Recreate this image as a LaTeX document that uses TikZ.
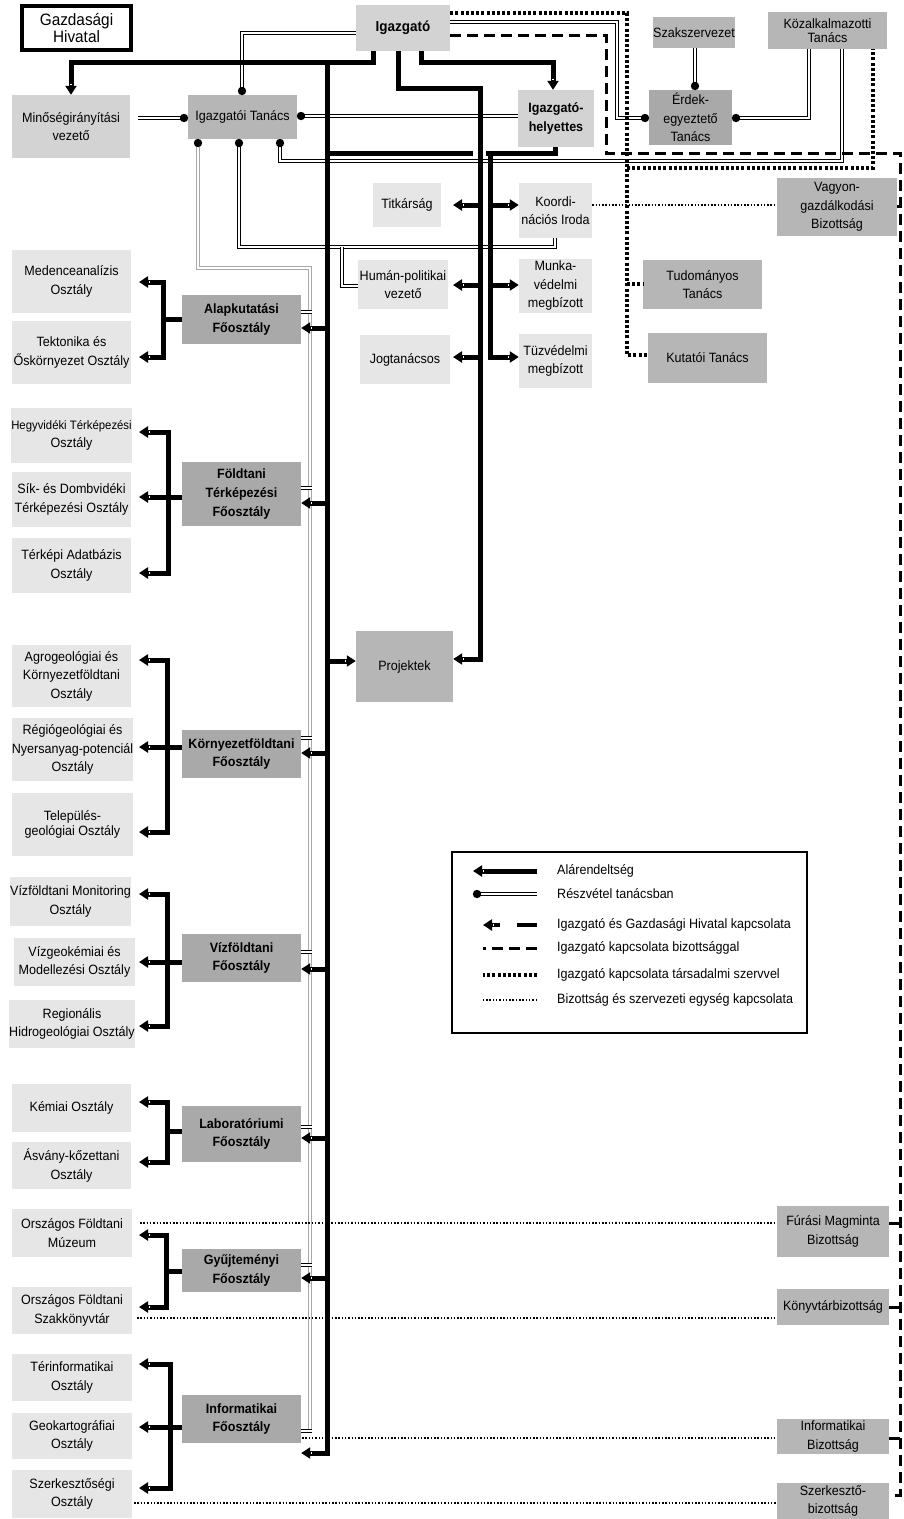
\documentclass[tikz,border=0pt]{standalone}
\usepackage{fontspec}
\setmainfont{Liberation Sans}[FakeStretch=0.93]
\usetikzlibrary{arrows.meta}
\definecolor{cVL}{HTML}{E6E6E6}
\definecolor{cL}{HTML}{D3D3D3}
\definecolor{cM}{HTML}{B6B6B6}
\definecolor{cD}{HTML}{A9A9A9}
\definecolor{cG}{HTML}{A8A8A8}
\newcommand\bx[7]{\node[box,#2,minimum width={(#5)-(#3)},minimum height={(#6)-(#4)}] (#1) at ({((#3)+(#5))/2},{((#4)+(#6))/2}) {#7};}
\newcommand\ball[1]{\fill #1 circle[radius=4.2pt];}
\begin{document}
\begin{tikzpicture}[x=1pt,y=-1pt,
  box/.style={inner sep=0pt, align=center, font=\fontsize{13.5}{18.5}\selectfont},
  bfb/.style={font=\fontsize{13.5}{18.5}\selectfont\bfseries},
  vl/.style={fill=cVL}, lt/.style={fill=cL}, md/.style={fill=cM}, dk/.style={fill=cD, bfb},
  sub/.style={line width=5pt},
  arr/.style={-{Rectangle[length=3pt,width=3.5pt,fill=white,line width=1.2pt] Triangle[length=9pt,width=11pt]}},
  arrb/.style={{Triangle[length=9pt,width=11pt] Rectangle[length=3pt,width=3.5pt,fill=white,line width=1.2pt]}-{Rectangle[length=3pt,width=3.5pt,fill=white,line width=1.2pt] Triangle[length=9pt,width=11pt]}},
  part/.style={draw=black, line width=1.1pt, double=white, double distance=2pt},
  gpart/.style={draw=cG, line width=0.9pt, double=white, double distance=1.8pt},
  bdash/.style={line width=3pt, dash pattern=on 11pt off 6pt},
  tdot/.style={line width=3.2pt, dash pattern=on 3pt off 2.2pt},
  fdot/.style={line width=1.6pt, dash pattern=on 1.5pt off 1.8pt},
  legtext/.style={anchor=west, inner sep=0pt, font=\fontsize{13.5}{16}\selectfont}
]
\useasboundingbox (0,0) rectangle (903,1519);

% ---------------- boxes ----------------
\node[box, draw, line width=4pt, fill=white, minimum width=109, minimum height=44, font=\fontsize{16.5}{17}\selectfont] (gh) at (76.5,28) {Gazdasági\\Hivatal};
\bx{igaz}{lt,font=\fontsize{14.5}{18}\selectfont\bfseries}{356}{5}{450}{51}{Igazgató}
\bx{minv}{lt}{12}{95}{130}{158}{Minőségirányítási\\vezető}
\bx{itan}{md}{188}{95}{297}{139}{Igazgatói Tanács}
\bx{ih}{lt,bfb}{518}{90}{594}{147}{Igazgató-\\helyettes}
\bx{szak}{md}{653}{17}{735}{48}{Szakszervezet}
\bx{kozt}{md,font=\fontsize{13.5}{14}\selectfont}{768}{12}{887}{49}{Közalkalmazotti\\Tanács}
\bx{erdek}{fill=cD}{649}{90}{732}{145}{Érdek-\\egyeztető\\Tanács}
\bx{vagy}{md}{777}{178}{897}{236}{Vagyon-\\gazdálkodási\\Bizottság}
\bx{tud}{md}{643}{260}{762}{309}{Tudományos\\Tanács}
\bx{kut}{md}{648}{333}{767}{383}{Kutatói Tanács}
\bx{titk}{vl}{373}{183}{441}{227}{Titkárság}
\bx{koord}{vl}{519}{183}{592}{238}{Koordi-\\nációs Iroda}
\bx{human}{vl}{358}{260}{448}{309}{Humán-politikai\\vezető}
\bx{munka}{vl}{519}{259}{592}{313}{Munka-\\védelmi\\megbízott}
\bx{jog}{vl}{360}{335}{450}{384}{Jogtanácsos}
\bx{tuz}{vl}{519}{334}{592}{388}{Tüzvédelmi\\megbízott}
\bx{proj}{md}{356}{631}{453}{702}{Projektek}

% Főosztályok
\bx{alap}{dk}{182}{295}{301}{344}{Alapkutatási\\Főosztály}
\bx{fold}{dk}{182}{462}{301}{526}{Földtani\\Térképezési\\Főosztály}
\bx{korny}{dk}{182}{730}{301}{778}{Környezetföldtani\\Főosztály}
\bx{viz}{dk}{182}{934}{301}{982}{Vízföldtani\\Főosztály}
\bx{lab}{dk}{182}{1106}{301}{1162}{Laboratóriumi\\Főosztály}
\bx{gyuj}{dk}{182}{1249}{301}{1292}{Gyűjteményi\\Főosztály}
\bx{info}{dk}{182}{1395}{301}{1443}{Informatikai\\Főosztály}

% Osztályok
\bx{o1}{vl}{12}{250}{131}{313}{Medenceanalízis\\Osztály}
\bx{o2}{vl}{12}{321}{131}{384}{Tektonika és\\Őskörnyezet Osztály}
\bx{o3}{vl}{12}{408}{131}{463}{{\fontsize{12.2}{14}\selectfont Hegyvidéki Térképezési}\\Osztály}
\bx{o4}{vl}{12}{472}{131}{527}{Sík- és Dombvidéki\\Térképezési Osztály}
\bx{o5}{vl}{12}{538}{131}{593}{Térképi Adatbázis\\Osztály}
\bx{o6}{vl}{12}{645}{131}{707}{Agrogeológiai és\\Környezetföldtani\\Osztály}
\bx{o7}{vl}{12}{718}{133}{781}{Régiógeológiai és\\Nyersanyag-potenciál\\Osztály}
\bx{o8}{vl,font=\fontsize{13.5}{15}\selectfont}{12}{793}{133}{856}{Település-\\geológiai Osztály}
\bx{o9}{vl}{10}{877}{131}{926}{Vízföldtani Monitoring\\Osztály}
\bx{o10}{vl}{14}{938}{135}{986}{Vízgeokémiai és\\Modellezési Osztály}
\bx{o11}{vl}{12}{1000}{132}{1048}{Regionális\\Hidrogeológiai Osztály}
\bx{o12}{vl}{12}{1084}{131}{1132}{Kémiai Osztály}
\bx{o13}{vl}{12}{1142}{131}{1189}{Ásvány-kőzettani\\Osztály}
\bx{o14}{vl}{12}{1209}{132}{1257}{Országos Földtani\\Múzeum}
\bx{o15}{vl}{12}{1287}{132}{1334}{Országos Földtani\\Szakkönyvtár}
\bx{o16}{vl}{12}{1354}{132}{1401}{Térinformatikai\\Osztály}
\bx{o17}{vl}{12}{1413}{132}{1459}{Geokartográfiai\\Osztály}
\bx{o18}{vl}{12}{1470}{132}{1518}{Szerkesztőségi\\Osztály}

% Bizottságok
\bx{furas}{md}{777}{1206}{889}{1257}{Fúrási Magminta\\Bizottság}
\bx{konyvb}{md}{777}{1289}{889}{1325}{Könyvtárbizottság}
\bx{infob}{md}{777}{1419}{889}{1454}{Informatikai\\Bizottság}
\bx{szerkb}{md}{777}{1483}{889}{1519}{Szerkesztő-\\bizottság}

% ---------------- participation (double) lines ----------------
\draw[gpart] (198,143) |- (310,268) -- (310,1431);
\foreach \yy in {312,488,738,952,1127,1265,1431}{\draw[part,line width=0.9pt] (301,\yy) -- (312,\yy);}
\ball{(198,143)}
\draw[part] (igaz.west |- 0,33) -| (242,91); \ball{(242,91)}
\draw[part] (138,118) -- (184,118); \ball{(184,118)}
\draw[part] (ih.west |- 0,116) -- (301,116); \ball{(301,116)}
\draw[part] (igaz.east |- 0,22) -| (617,118) -- (645,118); \ball{(645,118)}
\draw[part] (szak.south -| 695,0) -- (695,86); \ball{(695,86)}
\draw[part] (kozt.south -| 809,0) |- (736,118); \ball{(736,118)}
\draw[part] (kozt.south -| 842,0) |- (280,161) -- (280,143); \ball{(280,143)}
\draw[part] (239,143) |- (555,247) -- (koord.south -| 555,0); \ball{(239,143)}
\draw[part] (342,247) |- (human.west |- 0,286);

% ---------------- committee relations ----------------
\draw[bdash] (igaz.east |- 0,35) -| (606,153) -| (900,1495) -- (szerkb.east |- 0,1495);
\draw[bdash] (900,206) -- (vagy.east |- 0,206);
\draw[bdash] (900,1223) -- (furas.east |- 0,1223);
\draw[bdash] (900,1307) -- (konyvb.east |- 0,1307);
\draw[bdash] (900,1438) -- (infob.east |- 0,1438);

\draw[tdot] (igaz.east |- 0,13) -| (627,355) -- (kut.west |- 0,355);
\draw[tdot] (627,168) -| (kozt.south -| 873,0);
\draw[tdot] (627,284) -- (tud.west |- 0,284);

\draw[fdot] (koord.east |- 0,205) -- (vagy.west |- 0,205);
\draw[fdot] (140,1223) -- (furas.west |- 0,1223);
\draw[fdot] (137,1318) -- (konyvb.west |- 0,1318);
\draw[fdot] (302,1438) -- (infob.west |- 0,1438);
\draw[fdot] (134,1503) -- (szerkb.west |- 0,1503);

% ---------------- subordination (thick) ----------------
\draw[sub,arr] (igaz.south -| 373,0) |- (71,62) -- (minv.north -| 71,0);
\draw[sub,arr] (327,62) |- (info.east |- 0,1453);
\draw[sub,arr] (igaz.south -| 398,0) |- (480,88) -- (480,659) -- (proj.east |- 0,659);
\draw[sub,arr] (igaz.south -| 421,0) |- (553,62) -- (ih.north -| 553,0);
\draw[sub] (ih.south -| 555,0) |- (486,153);
\draw[sub] (473,153) -- (327,153);
\draw[sub,arr] (490,153) |- (tuz.west |- 0,357);
\draw[sub,arr] (490,205) -- (koord.west |- 0,205);
\draw[sub,arr] (490,285) -- (munka.west |- 0,285);
\draw[sub,arr] (480,205) -- (453,205);
\draw[sub,arr] (480,285) -- (453,285);
\draw[sub,arr] (480,357) -- (453,357);
\draw[sub,arr] (327,661) -- (proj.west |- 0,661);
\foreach \nn/\yy in {alap/328,fold/503,korny/753,viz/969,lab/1138,gyuj/1278}{\draw[sub,arr] (327,\yy) -- (\nn.east |- 0,\yy);}

% brackets
\draw[sub,arrb] (139,282) -| (163,357) -- (139,357);
\draw[sub] (alap.west |- 0,319) -- (163,319);
\draw[sub,arrb] (139,432) -| (168,573) -- (139,573);
\draw[sub,arr] (fold.west |- 0,497) -- (139,497);
\draw[sub,arrb] (139,660) -| (167,832) -- (139,832);
\draw[sub,arr] (korny.west |- 0,747) -- (139,747);
\draw[sub,arrb] (139,894) -| (167,1026) -- (139,1026);
\draw[sub,arr] (viz.west |- 0,962) -- (139,962);
\draw[sub,arrb] (139,1102) -| (167,1162) -- (139,1162);
\draw[sub] (lab.west |- 0,1131) -- (167,1131);
\draw[sub,arrb] (139,1235) -| (166,1307) -- (139,1307);
\draw[sub] (gyuj.west |- 0,1271) -- (166,1271);
\draw[sub,arrb] (139,1364) -| (170,1488) -- (139,1488);
\draw[sub,arr] (info.west |- 0,1427) -- (139,1427);

% ---------------- legend ----------------
\node[draw, line width=1.5pt, minimum width=355, minimum height=181, inner sep=0pt] (leg) at (629.5,942.5) {};
\draw[sub,arr] (537,871) -- (473,871);
\draw[part] (537,894) -- (477,894); \ball{(477,894)}
\draw[line width=4.5pt] (537,925) -- (517,925);
\draw[line width=4.5pt,arr] (500,925) -- (483,925);
\draw[bdash] (537,948) -- (483,948);
\draw[tdot] (537,975) -- (483,975);
\draw[fdot] (537,1000) -- (483,1000);
\node[legtext] (l1) at (557,871) {Alárendeltség};
\node[legtext] (l2) at (557,894) {Részvétel tanácsban};
\node[legtext] (l3) at (557,925) {Igazgató és Gazdasági Hivatal kapcsolata};
\node[legtext] (l4) at (557,948) {Igazgató kapcsolata bizottsággal};
\node[legtext] (l5) at (557,975) {Igazgató kapcsolata társadalmi szervvel};
\node[legtext] (l6) at (557,1000) {Bizottság és szervezeti egység kapcsolata};
\end{tikzpicture}
\end{document}
